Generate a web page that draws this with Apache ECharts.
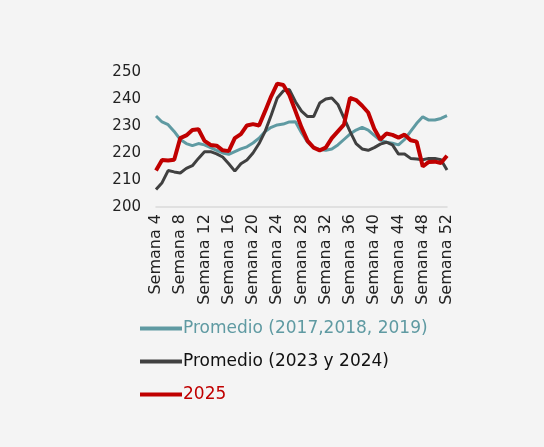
<!DOCTYPE html>
<html>
<head>
<meta charset="utf-8">
<script src="https://cdn.jsdelivr.net/npm/echarts@6/dist/echarts.min.js"></script>
<style>
  html, body { margin: 0; padding: 0; background: #f4f4f4; }
  #chart { width: 544px; height: 447px; }
</style>
</head>
<body>
<div id="chart"></div>
<script>
// semanas 4..52
var weeks = [];
for (var w = 4; w <= 52; w++) weeks.push('Semana ' + w);

var prom2017_2019 = [233.7, 231.5, 230.5, 228, 225, 223.5, 222.7, 223.5, 223, 222,
  221, 220, 219.5, 220.5, 221.5, 222.3, 223.7, 225.5, 228, 229.5,
  230.4, 230.7, 231.5, 231.6, 227.5, 224, 222, 221.3, 221, 221.5,
  223, 225, 227, 228.5, 229.5, 228.5, 226.5, 224.7, 224, 223.6,
  223, 225, 228, 231, 233.4, 232.2, 232.2, 232.8, 233.8];

var prom2023_2024 = [206.5, 209, 213.5, 213, 212.6, 214.3, 215.3, 218, 220.5, 220.5,
  219.7, 218.5, 216, 213.3, 216, 217.4, 220, 223.5, 228, 234,
  240.4, 243, 243.5, 239, 235.5, 233.5, 233.5, 238.5, 240, 240.4,
  238, 233, 228, 223.5, 221.5, 221, 222, 223.3, 224, 223,
  219.6, 219.6, 218, 217.8, 217.5, 218, 218, 217.5, 213.7];

var data2025 = [213.5, 217.4, 217.2, 217.5, 225.5, 226.5, 228.5, 228.8, 224.5, 223,
  222.7, 221, 220.7, 225.5, 227, 230.2, 230.7, 230.2, 235.5, 241,
  245.7, 245.2, 241.5, 235.5, 229.5, 224.5, 222, 221, 222, 225.5,
  228, 230.5, 240.4, 239.6, 237.5, 235, 229, 225, 227.2, 226.7,
  225.7, 226.8, 224.7, 224.2, 215, 216.7, 216.8, 216.3, 219];

var seriesNames = ['Promedio (2017,2018, 2019)', 'Promedio (2023 y 2024)', '2025'];
var colors = ['#5f9aa2', '#404040', '#c00000'];

var chart = echarts.init(document.getElementById('chart'));
var fontFam = 'DejaVu Sans, sans-serif';

chart.setOption({
  backgroundColor: '#f4f4f4',
  animation: false,
  color: colors,
  grid: { left: 156, right: 97, top: 72, bottom: 240 },
  legend: {
    orient: 'vertical',
    left: 135,
    top: 315,
    itemGap: 16,
    itemWidth: 42,
    itemHeight: 4,
    icon: 'rect',
    data: [
      { name: seriesNames[0], textStyle: { color: colors[0] } },
      { name: seriesNames[1], textStyle: { color: '#111' } },
      { name: seriesNames[2], textStyle: { color: colors[2] } }
    ],
    textStyle: { fontSize: 17, fontFamily: fontFam, padding: [0, 0, 0, -4] }
  },
  xAxis: {
    type: 'category',
    data: weeks,
    boundaryGap: false,
    axisLine: { lineStyle: { color: '#d9d9d9', width: 1.5 } },
    axisTick: { show: false },
    axisLabel: {
      interval: 3,
      rotate: 90,
      margin: 7,
      color: '#222',
      fontSize: 16,
      fontFamily: fontFam
    }
  },
  yAxis: {
    type: 'value',
    min: 200,
    max: 250,
    interval: 10,
    axisLine: { show: false },
    axisTick: { show: false },
    splitLine: { show: false },
    axisLabel: { color: '#222', fontSize: 15, margin: 15, fontFamily: fontFam }
  },
  series: [
    { name: seriesNames[0], type: 'line', data: prom2017_2019, symbol: 'none',
      lineStyle: { width: 3, color: colors[0] } },
    { name: seriesNames[1], type: 'line', data: prom2023_2024, symbol: 'none',
      lineStyle: { width: 3, color: colors[1] } },
    { name: seriesNames[2], type: 'line', data: data2025, symbol: 'none',
      lineStyle: { width: 4, color: colors[2] } }
  ]
});
</script>
</body>
</html>
